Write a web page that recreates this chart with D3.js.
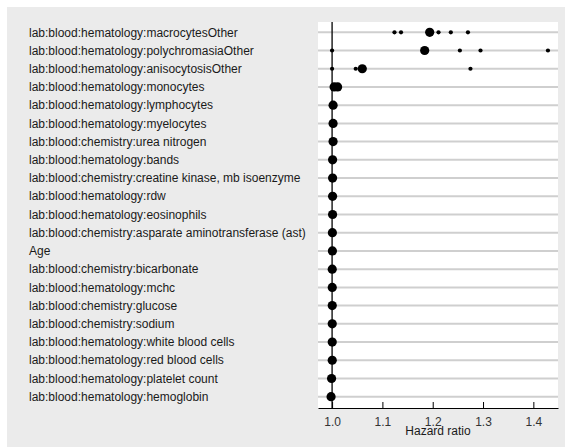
<!DOCTYPE html>
<html><head><meta charset="utf-8">
<script src="https://cdn.jsdelivr.net/npm/d3@7/dist/d3.min.js"></script>
<style>body{margin:0;background:#fff}svg{display:block}</style>
</head><body>
<script>
const categories = [
  "lab:blood:hematology:macrocytesOther",
  "lab:blood:hematology:polychromasiaOther",
  "lab:blood:hematology:anisocytosisOther",
  "lab:blood:hematology:monocytes",
  "lab:blood:hematology:lymphocytes",
  "lab:blood:hematology:myelocytes",
  "lab:blood:chemistry:urea nitrogen",
  "lab:blood:hematology:bands",
  "lab:blood:chemistry:creatine kinase, mb isoenzyme",
  "lab:blood:hematology:rdw",
  "lab:blood:hematology:eosinophils",
  "lab:blood:chemistry:asparate aminotransferase (ast)",
  "Age",
  "lab:blood:chemistry:bicarbonate",
  "lab:blood:hematology:mchc",
  "lab:blood:chemistry:glucose",
  "lab:blood:chemistry:sodium",
  "lab:blood:hematology:white blood cells",
  "lab:blood:hematology:red blood cells",
  "lab:blood:hematology:platelet count",
  "lab:blood:hematology:hemoglobin"
];
// main hazard ratio estimates (large dots)
const hazardRatio = [1.194, 1.184, 1.060, 1.004, 1.002, 1.002, 1.002, 1.001, 1.001, 1.001, 1.001, 1.0006, 1.0006,
  1.0003, 1.0003, 1.0003, 1.0003, 1.0003, 1.0003, 0.999, 0.998];
// extra values (small dots) per category
const extraCategory = [
  "lab:blood:hematology:macrocytesOther","lab:blood:hematology:macrocytesOther","lab:blood:hematology:macrocytesOther",
  "lab:blood:hematology:macrocytesOther","lab:blood:hematology:macrocytesOther",
  "lab:blood:hematology:polychromasiaOther","lab:blood:hematology:polychromasiaOther","lab:blood:hematology:polychromasiaOther","lab:blood:hematology:polychromasiaOther",
  "lab:blood:hematology:anisocytosisOther","lab:blood:hematology:anisocytosisOther","lab:blood:hematology:anisocytosisOther"
];
const extraValue = [1.124, 1.137, 1.2115, 1.236, 1.270,
  1.000, 1.254, 1.295, 1.429,
  1.000, 1.047, 1.275];
// second large estimate for monocytes
const extraBigCategory = ["lab:blood:hematology:monocytes"];
const extraBigValue = [1.011];
const ticks = [1.0, 1.1, 1.2, 1.3, 1.4];
const xTitle = "Hazard ratio";

const W = 565, H = 447;
const panel = {left: 318, right: 558, top: 22, bottom: 408};
const FONT = "'Liberation Sans', Arial, sans-serif";
const svg = d3.select("body").append("svg").attr("width", W).attr("height", H)
  .style("font-family", FONT);

svg.append("rect").attr("x", 7).attr("y", 7).attr("width", W - 7).attr("height", H - 7).attr("fill", "#ebebeb");
svg.append("rect").attr("x", panel.left).attr("y", panel.top)
  .attr("width", panel.right - panel.left).attr("height", panel.bottom - panel.top).attr("fill", "#fff");

const x = d3.scaleLinear().domain([0.972, 1.449]).range([panel.left, panel.right]);
const y = d3.scalePoint().domain(categories).range([32.3, 396.7]);

// grid lines
svg.append("g").selectAll("line").data(categories).join("line")
  .attr("x1", panel.left).attr("x2", panel.right)
  .attr("y1", d => y(d)).attr("y2", d => y(d))
  .attr("stroke", "#cfcfcf").attr("stroke-width", 2);

// reference line at 1
svg.append("line").attr("x1", x(1)).attr("x2", x(1)).attr("y1", panel.top).attr("y2", panel.bottom)
  .attr("stroke", "#000").attr("stroke-width", 1.3);

// labels
svg.append("g").selectAll("text").data(categories).join("text")
  .attr("x", 29).attr("y", d => y(d)).attr("dy", "0.35em")
  .attr("font-size", 12).attr("fill", "#1a1a1a").text(d => d);

// points
svg.append("g").selectAll("circle").data(extraValue).join("circle")
  .attr("cx", d => x(d)).attr("cy", (d, i) => y(extraCategory[i])).attr("r", 2.1).attr("fill", "#000");
svg.append("g").selectAll("circle").data(hazardRatio).join("circle")
  .attr("cx", d => x(d)).attr("cy", (d, i) => y(categories[i])).attr("r", 4.6).attr("fill", "#000");
svg.append("g").selectAll("circle").data(extraBigValue).join("circle")
  .attr("cx", d => x(d)).attr("cy", (d, i) => y(extraBigCategory[i])).attr("r", 4.6).attr("fill", "#000");

// axis
const ax = svg.append("g").attr("transform", `translate(0,${panel.bottom})`)
  .call(d3.axisBottom(x).tickValues(ticks).tickFormat(d3.format(".1f"))
    .tickSizeInner(-6).tickSizeOuter(0).tickPadding(9.5));
ax.select(".domain").attr("stroke", "#000");
ax.selectAll(".tick line").attr("stroke", "#000");
ax.selectAll("text").attr("font-size", 12).attr("fill", "#333").style("font-family", FONT);

svg.append("text").attr("x", (panel.left + panel.right) / 2).attr("y", 435)
  .attr("text-anchor", "middle").attr("font-size", 12).attr("fill", "#1a1a1a").text(xTitle);
</script>
</body></html>
